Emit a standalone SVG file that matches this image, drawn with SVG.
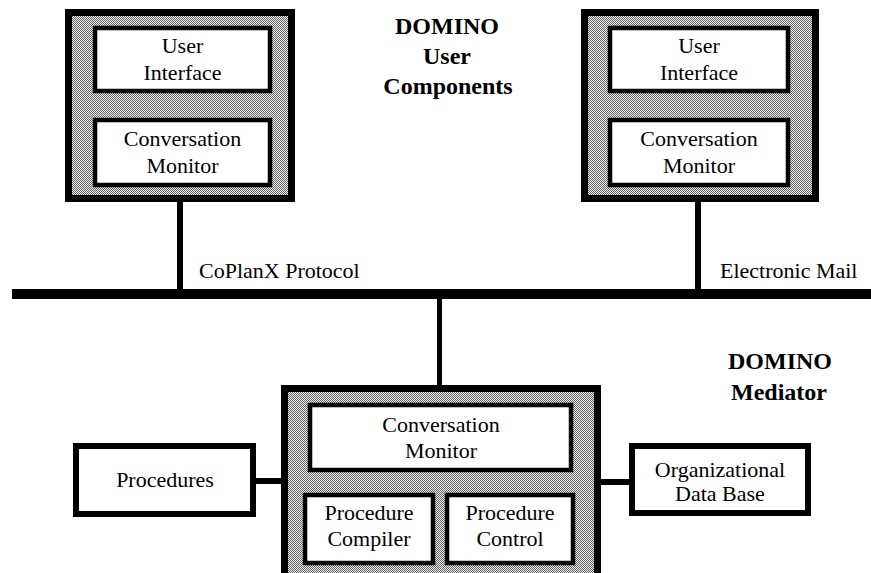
<svg xmlns="http://www.w3.org/2000/svg" width="871" height="573" viewBox="0 0 871 573">
<defs>
<pattern id="dither" width="2" height="2" patternUnits="userSpaceOnUse">
<rect width="2" height="2" fill="#ececec"/>
<rect x="0" y="0" width="1" height="1" fill="#666"/>
<rect x="1" y="1" width="1" height="1" fill="#666"/>
</pattern>
</defs>
<style>
.outer{fill:url(#dither);stroke:#000;stroke-width:7}
.inner{fill:#fff;stroke:#000;stroke-width:4.5}
.side{fill:#fff;stroke:#000;stroke-width:6}
.t{font-family:"Liberation Serif","Times New Roman",serif;font-size:22px;fill:#000;text-anchor:middle}
.lbl{font-family:"Liberation Serif","Times New Roman",serif;font-size:22px;fill:#000}
.h{font-family:"Liberation Serif","Times New Roman",serif;font-size:24px;font-weight:bold;fill:#000;text-anchor:middle}
.ln{fill:#000}
</style>
<rect width="871" height="573" fill="#fff"/>

<g id="connectors">
<rect class="ln" x="12" y="289" width="859" height="10"/>
<rect class="ln" x="177" y="200" width="6" height="90"/>
<rect class="ln" x="695" y="200" width="6" height="90"/>
<rect class="ln" x="437" y="298" width="5" height="90"/>
<rect class="ln" x="181" y="92" width="4" height="27"/>
<rect class="ln" x="698" y="92" width="4" height="27"/>
<rect class="ln" x="368" y="471" width="4" height="24"/>
<rect class="ln" x="508" y="471" width="4" height="24"/>
<rect class="ln" x="254" y="478" width="28" height="6"/>
<rect class="ln" x="600" y="479" width="30" height="6"/>
</g>

<g id="user-left">
<rect class="outer" x="68.5" y="12.5" width="223" height="186"/>
<g id="ui-left">
<rect class="inner" x="95" y="28" width="175" height="63"/>
<text class="t" x="182.5" y="53">User</text>
<text class="t" x="182.5" y="80">Interface</text>
</g>
<g id="cm-left">
<rect class="inner" x="95" y="120" width="175" height="65"/>
<text class="t" x="182.5" y="146">Conversation</text>
<text class="t" x="182.5" y="173">Monitor</text>
</g>
</g>

<g id="user-right">
<rect class="outer" x="584.5" y="12.5" width="231" height="186"/>
<g id="ui-right">
<rect class="inner" x="610" y="28" width="178" height="63"/>
<text class="t" x="699" y="53">User</text>
<text class="t" x="699" y="80">Interface</text>
</g>
<g id="cm-right">
<rect class="inner" x="610" y="120" width="178" height="65"/>
<text class="t" x="699" y="146">Conversation</text>
<text class="t" x="699" y="173">Monitor</text>
</g>
</g>

<g id="title-user">
<text class="h" x="447" y="34">DOMINO</text>
<text class="h" x="447" y="64">User</text>
<text class="h" x="448" y="94">Components</text>
</g>

<g id="labels">
<text class="lbl" x="199" y="278">CoPlanX Protocol</text>
<text class="lbl" x="720" y="278">Electronic Mail</text>
</g>

<g id="mediator">
<rect class="outer" x="284.5" y="388.5" width="313" height="200"/>
<g id="cm-med">
<rect class="inner" x="310" y="405" width="261" height="65"/>
<text class="t" x="441" y="432">Conversation</text>
<text class="t" x="441" y="458">Monitor</text>
</g>
<g id="proc-compiler">
<rect class="inner" x="305" y="495" width="128" height="68"/>
<text class="t" x="369" y="520">Procedure</text>
<text class="t" x="369" y="546">Compiler</text>
</g>
<g id="proc-control">
<rect class="inner" x="447" y="495" width="126" height="68"/>
<text class="t" x="510" y="520">Procedure</text>
<text class="t" x="510" y="546">Control</text>
</g>
</g>

<g id="title-mediator">
<text class="h" x="780" y="369">DOMINO</text>
<text class="h" x="779" y="400">Mediator</text>
</g>

<g id="procedures">
<rect class="side" x="76" y="446" width="177" height="68"/>
<text class="t" x="165" y="487">Procedures</text>
</g>

<g id="org-db">
<rect class="side" x="632" y="446" width="176" height="67"/>
<text class="t" x="720" y="477">Organizational</text>
<text class="t" x="720" y="501">Data Base</text>
</g>
</svg>
